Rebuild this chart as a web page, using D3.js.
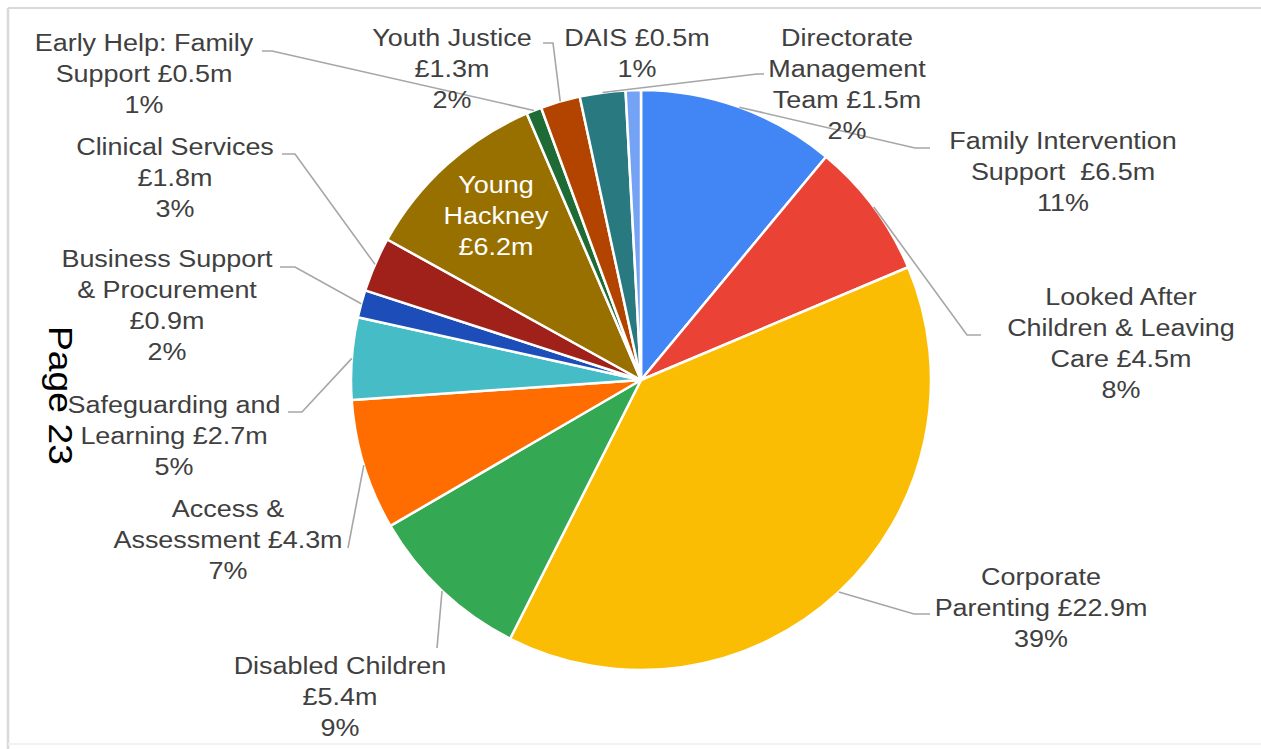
<!DOCTYPE html>
<html>
<head>
<meta charset="utf-8">
<script src="https://cdn.jsdelivr.net/npm/d3@7"></script>
<style>
  html, body { margin: 0; padding: 0; background: #ffffff; }
  svg { display: block; }
  text { font-family: "Liberation Sans", Arial, sans-serif; white-space: pre; }
</style>
</head>
<body>
<svg id="chart" width="1261" height="749"></svg>
<script>
// ---- data ----
const categories = [
  "Family Intervention Support", "Looked After Children & Leaving Care", "Corporate Parenting",
  "Disabled Children", "Access & Assessment", "Safeguarding and Learning",
  "Business Support & Procurement", "Clinical Services", "Young Hackney",
  "Early Help: Family Support", "Youth Justice", "Directorate Management Team", "DAIS"
];
const values = [6.5, 4.5, 22.9, 5.4, 4.3, 2.7, 0.9, 1.8, 6.2, 0.5, 1.3, 1.5, 0.5];
const percentLabels = ["11%", "8%", "39%", "9%", "7%", "5%", "2%", "3%", "", "1%", "2%", "2%", "1%"];
// label text broken into lines; {v} is replaced by the formatted value
const labelLines = [
  ["Family Intervention", "Support  {v}"],
  ["Looked After", "Children & Leaving", "Care {v}"],
  ["Corporate", "Parenting {v}"],
  ["Disabled Children", "{v}"],
  ["Access &", "Assessment {v}"],
  ["Safeguarding and", "Learning {v}"],
  ["Business Support", "& Procurement", "{v}"],
  ["Clinical Services", "{v}"],
  ["Young", "Hackney", "{v}"],
  ["Early Help: Family", "Support {v}"],
  ["Youth Justice", "{v}"],
  ["Directorate", "Management", "Team {v}"],
  ["DAIS {v}"]
];
const colors = [
  "#4285F4", "#EA4335", "#FBBC04", "#34A853", "#FF6D01", "#46BDC6",
  "#1C4DB8", "#A0201A", "#987000", "#1E6B35", "#B34400", "#297A80", "#74A2F5"
];

// ---- layout (label placement, not data) ----
const labelLayout = [
  { cx: 1063, y: 140, leader: [[915, 148], [930, 148]] },
  { cx: 1121, y: 296, leader: [[967, 335], [981, 335]] },
  { cx: 1041, y: 576, leader: [[914, 614], [930, 614]] },
  { cx: 340,  y: 665, leader: [[437, 648]] },
  { cx: 228,  y: 508, leader: [[348, 548]] },
  { cx: 174,  y: 404, leader: [[302, 412], [288, 412]] },
  { cx: 167,  y: 258, leader: [[295, 267], [280, 267]] },
  { cx: 175,  y: 146, leader: [[295, 154], [282, 154]] },
  { cx: 496,  y: 184, inside: true },
  { cx: 144,  y: 42,  leader: [[272, 51], [262, 51]] },
  { cx: 452,  y: 37,  leader: [[553, 43], [543, 43]] },
  { cx: 847,  y: 37,  leader: [[757, 74], [764, 74]] },
  { cx: 637,  y: 37 }
];

const W = 1261, H = 749;
const cx = 641, cy = 380, R = 290;
const lineH = 31;
const fontSize = 24.5, stretch = 1.1;
const fmt = v => "£" + d3.format(".1f")(v) + "m";

const svg = d3.select("#chart");

// frame
svg.append("line").attr("x1", 8).attr("x2", W).attr("y1", 8).attr("y2", 8)
  .attr("stroke", "#d9d9d9").attr("stroke-width", 2);
svg.append("line").attr("x1", 8).attr("x2", 8).attr("y1", 8).attr("y2", H)
  .attr("stroke", "#d9d9d9").attr("stroke-width", 2.5);
svg.append("line").attr("x1", 8).attr("x2", W).attr("y1", 744).attr("y2", 744)
  .attr("stroke", "#f2f2f2").attr("stroke-width", 2);

const data = categories.map((c, i) => ({ name: c, value: values[i], i }));
const pie = d3.pie().value(d => d.value).sort(null);
const arcs = pie(data);
const arc = d3.arc().innerRadius(0).outerRadius(R);

const g = svg.append("g").attr("transform", `translate(${cx},${cy})`);
g.selectAll("path.slice").data(arcs).join("path")
  .attr("class", "slice")
  .attr("d", arc)
  .attr("fill", d => colors[d.index])
  .attr("stroke", "#ffffff")
  .attr("stroke-width", 2.5)
  .attr("stroke-linejoin", "round");

// leader lines
arcs.forEach(a => {
  const L = labelLayout[a.index];
  if (!L.leader) return;
  const mid = (a.startAngle + a.endAngle) / 2;
  const p0 = [cx + R * Math.sin(mid), cy - R * Math.cos(mid)];
  const pts = [p0, ...L.leader];
  svg.append("path")
    .attr("d", d3.line()(pts))
    .attr("fill", "none")
    .attr("stroke", "#a6a6a6")
    .attr("stroke-width", 1.6);
});

// labels
arcs.forEach(a => {
  const i = a.index;
  const L = labelLayout[i];
  const lines = labelLines[i].map(s => s.replace("{v}", fmt(values[i])));
  if (percentLabels[i]) lines.push(percentLabels[i]);
  const lg = svg.append("g").attr("transform", `translate(${L.cx},${L.y})`);
  lines.forEach((s, k) => {
    lg.append("text")
      .attr("transform", `translate(0,${k * lineH}) scale(${stretch},1)`)
      .attr("text-anchor", "middle")
      .attr("dominant-baseline", "central")
      .attr("font-size", fontSize)
      .attr("fill", L.inside ? "#ffffff" : "#404040")
      .text(s);
  });
});

// page marker
svg.append("text")
  .attr("transform", "translate(49,326) rotate(90) scale(1.13,1)")
  .attr("font-size", 33)
  .attr("fill", "#000000")
  .text("Page 23");
</script>
</body>
</html>
